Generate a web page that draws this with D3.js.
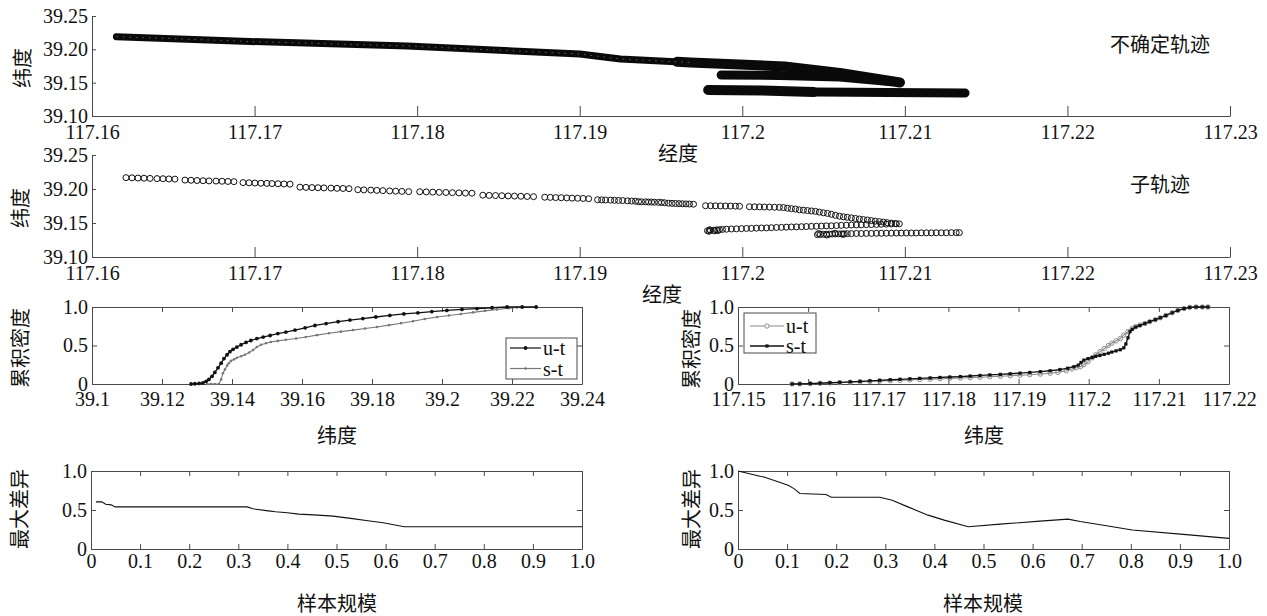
<!DOCTYPE html>
<html><head><meta charset="utf-8">
<script src="https://cdn.jsdelivr.net/npm/d3@7"></script>
<style>body{margin:0;background:#fff}svg{display:block}</style>
</head><body>
<svg id="c" width="1267" height="616"></svg>
<script>
// ---------- tick values / labels ----------
const trajXTicks = [117.16,117.17,117.18,117.19,117.2,117.21,117.22,117.23];
const trajXLabels = ["117.16","117.17","117.18","117.19","117.2","117.21","117.22","117.23"];
const trajYTicks = [39.10,39.15,39.20,39.25];
const trajYLabels = ["39.10","39.15","39.20","39.25"];
const cdfLatTicks = [39.1,39.12,39.14,39.16,39.18,39.2,39.22,39.24];
const cdfLatLabels = ["39.1","39.12","39.14","39.16","39.18","39.2","39.22","39.24"];
const cdfLonTicks = [117.15,117.16,117.17,117.18,117.19,117.2,117.21,117.22];
const cdfLonLabels = ["117.15","117.16","117.17","117.18","117.19","117.2","117.21","117.22"];
const unitTicks = [0,0.5,1];
const unitLabels = ["0","0.5","1.0"];
const sizeTicks = [0,0.1,0.2,0.3,0.4,0.5,0.6,0.7,0.8,0.9,1.0];
const sizeLabels = ["0","0.1","0.2","0.3","0.4","0.5","0.6","0.7","0.8","0.9","1.0"];

// ---------- uncertain trajectory (dense bands) ----------
const bandA1Lon = [117.1615,117.1697,117.1794,117.1900,117.1925,117.1968];
const bandA1Lat = [39.2190,39.2118,39.2050,39.1930,39.1855,39.1803];
const bandA2Lon = [117.1960,117.1968,117.2026,117.2060,117.2097];
const bandA2Lat = [39.1812,39.1803,39.1743,39.1645,39.1503];
const bandBLon = [117.1987,117.2023,117.2060,117.2092];
const bandBLat = [39.1615,39.1608,39.1585,39.1515];
const bandCLon = [117.1979,117.2012,117.2044];
const bandCLat = [39.1390,39.1383,39.1360];
const bandDLon = [117.2046,117.2090,117.2137];
const bandDLat = [39.1360,39.1352,39.1345];

// ---------- sub-trajectory points ----------
const subLon = [
117.16209,117.16246,117.16283,117.16320,117.16357,117.16400,117.16437,117.16473,117.16510,
117.16572,117.16609,117.16646,117.16683,117.16720,117.16763,117.16800,117.16836,117.16873,
117.16929,117.16966,117.17002,117.17039,117.17076,117.17107,117.17144,117.17181,117.17218,
117.17279,117.17316,117.17353,117.17390,117.17427,117.17470,117.17507,117.17544,117.17581,
117.17635,117.17672,117.17715,117.17752,117.17789,117.17831,117.17868,117.17906,117.17948,
117.18016,117.18056,117.18096,117.18136,117.18177,117.18217,117.18257,117.18297,117.18337,
117.18404,117.18443,117.18482,117.18521,117.18560,117.18599,117.18638,117.18677,117.18716,
117.18785,117.18819,117.18852,117.18886,117.18920,117.18953,117.18987,117.19021,117.19055,
117.19110,117.19135,117.19159,117.19190,117.19214,117.19239,117.19264,117.19294,117.19319,117.19343,
117.19362,117.19380,117.19405,117.19423,117.19442,117.19460,117.19485,117.19503,117.19522,
117.19546,117.19568,117.19589,117.19611,117.19632,117.19654,117.19675,117.19700,
117.19774,117.19805,117.19835,117.19866,117.19897,117.19927,117.19958,117.19983,
117.20044,117.20075,117.20106,117.20136,117.20167,117.20198,117.20228,117.20253,
117.20278,117.20302,117.20327,117.20351,117.20376,117.20401,117.20425,117.20450,117.20474,117.20499,
117.20524,117.20548,117.20573,117.20598,117.20622,117.20646,117.20671,117.20696,117.20720,117.20745,
117.20769,117.20794,117.20818,117.20843,117.20868,117.20892,117.20917,117.20941,117.20966,
117.19786,117.19804,117.19823,117.19841,117.19860,117.19878,117.19795,117.19830,117.19800,117.19850,
117.19903,117.19933,117.19964,117.19995,117.20026,117.20056,117.20087,117.20118,117.20149,117.20179,
117.20210,117.20241,117.20271,117.20302,117.20333,117.20364,117.20394,117.20425,117.20456,117.20487,
117.20517,117.20548,117.20579,117.20609,117.20640,117.20671,117.20702,117.20732,117.20763,117.20794,
117.20825,117.20855,117.20886,117.20917,117.20948,
117.20462,117.20480,117.20499,117.20517,117.20536,117.20554,117.20573,117.20591,117.20610,117.20628,117.20646,
117.20470,117.20520,117.20570,117.20620,
117.20671,117.20702,117.20732,117.20763,117.20794,117.20825,117.20855,117.20886,117.20917,117.20948,
117.20978,117.21009,117.21040,117.21070,117.21101,117.21132,117.21163,117.21193,117.21224,117.21255,
117.21286,117.21316,117.21335
];
const subLat = [
39.2167,39.2164,39.2161,39.2159,39.2156,39.2153,39.2151,39.2148,39.2145,
39.2131,39.2128,39.2125,39.2122,39.2119,39.2117,39.2114,39.2111,39.2108,
39.2094,39.2091,39.2088,39.2085,39.2083,39.2080,39.2077,39.2074,39.2071,
39.2027,39.2024,39.2021,39.2019,39.2016,39.2013,39.2010,39.2008,39.2005,
39.1990,39.1987,39.1984,39.1980,39.1976,39.1972,39.1968,39.1965,39.1961,
39.1960,39.1957,39.1954,39.1951,39.1949,39.1946,39.1943,39.1940,39.1938,
39.1909,39.1906,39.1904,39.1901,39.1898,39.1896,39.1893,39.1890,39.1887,
39.1879,39.1877,39.1874,39.1872,39.1869,39.1866,39.1864,39.1861,39.1857,
39.1842,39.1840,39.1838,39.1836,39.1834,39.1832,39.1830,39.1826,39.1823,39.1820,
39.1813,39.1812,39.1811,39.1809,39.1808,39.1806,39.1804,39.1802,39.1798,
39.1791,39.1789,39.1787,39.1785,39.1783,39.1781,39.1779,39.1776,
39.1754,39.1753,39.1752,39.1751,39.1750,39.1749,39.1748,39.1746,
39.1739,39.1738,39.1737,39.1735,39.1734,39.1732,39.1730,39.1727,
39.1717,39.1711,39.1705,39.1694,39.1689,39.1683,39.1677,39.1671,39.1660,39.1650,
39.1641,39.1628,39.1613,39.1600,39.1591,39.1584,39.1575,39.1567,39.1559,39.1551,
39.1544,39.1535,39.1527,39.1520,39.1513,39.1505,39.1498,39.1492,39.1488,
39.1387,39.1392,39.1394,39.1399,39.1402,39.1406,39.1379,39.1384,39.1400,39.1390,
39.1409,39.1412,39.1414,39.1417,39.1420,39.1421,39.1424,39.1427,39.1428,39.1431,
39.1434,39.1436,39.1439,39.1442,39.1443,39.1446,39.1448,39.1451,39.1452,39.1455,
39.1458,39.1459,39.1462,39.1465,39.1467,39.1470,39.1471,39.1473,39.1476,39.1477,
39.1479,39.1482,39.1483,39.1486,39.1488,
39.1329,39.1332,39.1334,39.1335,39.1337,39.1338,39.1340,39.1340,39.1341,39.1341,39.1343,
39.1345,39.1323,39.1347,39.1333,
39.1344,39.1346,39.1346,39.1347,39.1347,39.1349,39.1349,39.1350,39.1350,39.1352,
39.1352,39.1353,39.1353,39.1353,39.1355,39.1355,39.1355,39.1356,39.1356,39.1356,
39.1358,39.1358,39.1358
];

// ---------- cumulative density, latitude ----------
const cdfLatUT = [39.1283,39.1294,39.1306,39.1317,39.1326,39.1334,39.1343,39.1351,39.1360,39.1369,
39.1377,39.1386,39.1394,39.1403,39.1414,39.1426,39.1440,39.1454,39.1471,39.1489,
39.1509,39.1531,39.1554,39.1580,39.1609,39.1637,39.1669,39.1703,39.1737,39.1774,
39.1811,39.1851,39.1891,39.1931,39.1971,39.2014,39.2057,39.2100,39.2143,39.2186,39.2229,39.2269];
const cdfValUT = [0,0.003,0.008,0.015,0.035,0.06,0.10,0.15,0.21,0.27,
0.33,0.38,0.42,0.45,0.48,0.51,0.54,0.565,0.59,0.61,
0.63,0.655,0.675,0.70,0.73,0.76,0.785,0.81,0.83,0.85,
0.87,0.89,0.91,0.925,0.94,0.955,0.968,0.98,0.99,1.0,1.0,1.0];
const cdfLatST = [39.1329,39.1340,39.1351,39.1363,39.1369,39.1374,39.1380,39.1386,39.1391,39.1397,
39.1406,39.1414,39.1426,39.1437,39.1449,39.1460,39.1471,39.1483,39.1497,39.1511,
39.1531,39.1554,39.1583,39.1611,39.1643,39.1677,39.1711,39.1746,39.1780,39.1814,
39.1849,39.1883,39.1917,39.1951,39.1986,39.2020,39.2054,39.2089,39.2123,39.2157,39.2191,39.2214];
const cdfValST = [0,0,0,0,0.06,0.14,0.19,0.24,0.27,0.30,
0.32,0.34,0.36,0.38,0.41,0.44,0.48,0.51,0.53,0.545,
0.56,0.575,0.59,0.61,0.635,0.66,0.68,0.70,0.72,0.74,
0.765,0.79,0.815,0.845,0.87,0.89,0.91,0.93,0.95,0.968,0.985,0.995];

// ---------- cumulative density, longitude ----------
const cdfLonUT = [117.1577,117.1588,117.1603,117.1617,117.1631,117.1645,117.1660,117.1674,117.1688,117.1702,
117.1717,117.1731,117.1745,117.1759,117.1774,117.1788,117.1802,117.1817,117.1831,117.1845,
117.1859,117.1874,117.1888,117.1902,117.1916,117.1931,117.1945,
117.1956,117.1968,117.1976,117.1982,117.1988,117.1993,117.1999,117.2005,117.2010,117.2016,
117.2022,117.2028,117.2033,117.2039,117.2045,117.2050,117.2056,117.2062,117.2067,117.2073,
117.2080,117.2087,117.2095,117.2102,117.2110,117.2119,117.2127,117.2136,117.2144,117.2153,
117.2162,117.2170];
const cdfLonValUT = [0,0.002,0.005,0.009,0.013,0.018,0.023,0.028,0.033,0.038,
0.043,0.048,0.053,0.058,0.063,0.068,0.073,0.078,0.083,0.088,
0.094,0.10,0.107,0.114,0.121,0.129,0.140,
0.152,0.172,0.195,0.21,0.225,0.25,0.29,0.34,0.38,0.42,
0.46,0.50,0.53,0.56,0.59,0.635,0.68,0.72,0.745,0.765,
0.785,0.81,0.835,0.86,0.89,0.925,0.955,0.98,0.995,1.0,
1.0,1.0];
const cdfLonST = [117.1577,117.1588,117.1603,117.1617,117.1631,117.1645,117.1660,117.1674,117.1688,117.1702,
117.1717,117.1731,117.1745,117.1759,117.1774,117.1788,117.1802,117.1817,117.1831,117.1845,
117.1859,117.1874,117.1888,117.1902,117.1916,117.1931,117.1945,
117.1959,117.1970,117.1979,117.1985,117.1989,117.1993,117.1999,117.2005,117.2010,117.2016,
117.2022,117.2028,117.2033,117.2039,117.2045,117.2050,117.2053,117.2056,117.2059,117.2062,
117.2067,117.2073,117.2080,117.2087,117.2095,117.2102,117.2110,117.2119,117.2127,117.2136,
117.2144,117.2153,117.2162,117.2170];
const cdfLonValST = [0,0.002,0.006,0.011,0.016,0.022,0.028,0.034,0.041,0.048,
0.055,0.061,0.067,0.073,0.079,0.085,0.091,0.097,0.104,0.111,
0.118,0.125,0.133,0.141,0.150,0.160,0.172,
0.188,0.205,0.225,0.245,0.28,0.31,0.33,0.345,0.36,0.37,
0.385,0.40,0.415,0.43,0.445,0.47,0.52,0.60,0.68,0.71,
0.74,0.76,0.785,0.81,0.835,0.86,0.89,0.925,0.955,0.98,
0.995,1.0,1.0,1.0];

// ---------- maximum difference vs sample size ----------
const diffLX = [0.010,0.022,0.030,0.041,0.049,0.318,0.330,0.361,0.376,0.400,0.423,0.454,0.493,0.525,0.564,0.595,0.638,1.0];
const diffLY = [0.604,0.604,0.574,0.566,0.540,0.540,0.515,0.489,0.477,0.464,0.447,0.438,0.421,0.396,0.362,0.336,0.285,0.285];
const diffRX = [0,0.045,0.053,0.077,0.102,0.114,0.126,0.179,0.190,0.289,0.314,0.346,0.387,0.420,0.469,0.534,0.615,0.672,0.697,0.738,0.803,0.901,1.0];
const diffRY = [1.0,0.932,0.923,0.872,0.817,0.774,0.711,0.698,0.664,0.664,0.626,0.540,0.434,0.370,0.285,0.319,0.357,0.383,0.353,0.311,0.243,0.191,0.136];

// ================== drawing ==================
const SERIF = '"Liberation Serif","Times New Roman",serif';
const CJK = '"Noto Sans CJK SC","Noto Sans CJK TC",sans-serif';
const AX = '#4a4a4a';
const svg = d3.select('#c');

function styleAxis(g) {
  g.attr('font-family', SERIF);
  g.select('.domain').attr('stroke', AX).attr('stroke-width', 1);
  g.selectAll('.tick line').attr('stroke', AX).attr('stroke-width', 1);
  g.selectAll('.tick text').attr('font-family', SERIF).attr('font-size', 20).attr('fill', '#111');
}
function cjkText(x, y, str, rotate, size) {
  const t = svg.append('text').attr('font-family', CJK).attr('font-size', size || 20)
    .attr('fill', '#111').attr('text-anchor', 'middle').attr('dominant-baseline', 'central').text(str);
  if (rotate) t.attr('transform', `translate(${x},${y}) rotate(-90)`);
  else t.attr('x', x).attr('y', y);
  return t;
}

// open (left+bottom) trajectory axes
function trajPanel(top, bottom, xPad) {
  const x = d3.scaleLinear().domain([117.16, 117.23]).range([92, 1230]);
  const y = d3.scaleLinear().domain([39.10, 39.25]).range([bottom, top]);
  svg.append('g').attr('transform', `translate(0,${bottom})`)
    .call(d3.axisBottom(x).tickValues(trajXTicks).tickFormat((d, i) => trajXLabels[i])
      .tickSizeInner(-10).tickSizeOuter(0).tickPadding(xPad)).call(styleAxis);
  svg.append('g').attr('transform', 'translate(92,0)')
    .call(d3.axisLeft(y).tickValues(trajYTicks).tickFormat((d, i) => trajYLabels[i])
      .tickSizeInner(-4).tickSizeOuter(0).tickPadding(4)).call(styleAxis);
  return { x, y };
}

// boxed axes
function boxPanel(x0, x1, y0, y1, xDom, yDom, xt, xl, yt, yl, xPad) {
  const x = d3.scaleLinear().domain(xDom).range([x0, x1]);
  const y = d3.scaleLinear().domain(yDom).range([y1, y0]);
  svg.append('g').attr('transform', `translate(0,${y1})`)
    .call(d3.axisBottom(x).tickValues(xt).tickFormat((d, i) => xl[i]).tickSizeInner(-5).tickSizeOuter(0).tickPadding(xPad)).call(styleAxis);
  svg.append('g').attr('transform', `translate(0,${y0})`)
    .call(d3.axisTop(x).tickValues(xt).tickFormat('').tickSizeInner(-5).tickSizeOuter(0)).call(styleAxis);
  svg.append('g').attr('transform', `translate(${x0},0)`)
    .call(d3.axisLeft(y).tickValues(yt).tickFormat((d, i) => yl[i]).tickSizeInner(-5).tickSizeOuter(0).tickPadding(4)).call(styleAxis);
  svg.append('g').attr('transform', `translate(${x1},0)`)
    .call(d3.axisRight(y).tickValues(yt).tickFormat('').tickSizeInner(-5).tickSizeOuter(0)).call(styleAxis);
  return { x, y };
}

// ---- panel 1 : uncertain trajectory ----
(function () {
  const { x, y } = trajPanel(16, 116, 9);
  const line = d3.line().x(d => x(d[0])).y(d => y(d[1]));
  const bands = [
    [bandA1Lon, bandA1Lat, 7],
    [bandA2Lon, bandA2Lat, 10],
    [bandBLon, bandBLat, 9],
    [bandCLon, bandCLat, 10],
    [bandDLon, bandDLat, 9]
  ];
  bands.forEach(([lo, la, w]) => {
    svg.append('path').datum(lo.map((v, i) => [v, la[i]])).attr('d', line)
      .attr('fill', 'none').attr('stroke', '#0a0a0a').attr('stroke-width', w)
      .attr('stroke-linecap', 'round').attr('stroke-linejoin', 'round');
  });
  // speckled texture of overlapping circles
  svg.append('path').datum(bandA1Lon.map((v, i) => [v, bandA1Lat[i]])).attr('d', line)
    .attr('fill', 'none').attr('stroke', '#fff').attr('stroke-width', 1)
    .attr('stroke-dasharray', '1.5 5').attr('opacity', 0.35);
  cjkText(21, 68, '纬度', true);
  cjkText(678, 152, '经度');
  cjkText(1160, 43, '不确定轨迹');
})();

// ---- panel 2 : sub-trajectory ----
(function () {
  const { x, y } = trajPanel(155, 257, 9);
  svg.append('g').selectAll('circle').data(subLon.map((v, i) => [v, subLat[i]])).join('circle')
    .attr('cx', d => x(d[0])).attr('cy', d => y(d[1])).attr('r', 3)
    .attr('fill', 'none').attr('stroke', '#111').attr('stroke-width', 1);
  cjkText(19, 208, '纬度', true);
  cjkText(662, 293, '经度');
  cjkText(1160, 183, '子轨迹');
})();

// ---- panel 3 : CDF latitude ----
(function () {
  const { x, y } = boxPanel(92, 582, 307, 384, [39.1, 39.24], [0, 1], cdfLatTicks, cdfLatLabels, unitTicks, unitLabels, 8);
  const line = d3.line().x(d => x(d[0])).y(d => y(d[1]));
  const st = cdfLatST.map((v, i) => [v, cdfValST[i]]);
  const ut = cdfLatUT.map((v, i) => [v, cdfValUT[i]]);
  svg.append('path').datum(st).attr('d', line).attr('fill', 'none').attr('stroke', '#777').attr('stroke-width', 1.1);
  svg.append('g').selectAll('circle').data(st).join('circle').attr('cx', d => x(d[0])).attr('cy', d => y(d[1]))
    .attr('r', 1.3).attr('fill', '#777');
  svg.append('path').datum(ut).attr('d', line).attr('fill', 'none').attr('stroke', '#111').attr('stroke-width', 1.3);
  svg.append('g').selectAll('circle').data(ut).join('circle').attr('cx', d => x(d[0])).attr('cy', d => y(d[1]))
    .attr('r', 1.9).attr('fill', '#111');
  // legend
  const lg = svg.append('g');
  lg.append('rect').attr('x', 506).attr('y', 338).attr('width', 71).attr('height', 41).attr('fill', '#fff').attr('stroke', AX);
  [['u-t', '#111', 348, 1.9], ['s-t', '#777', 368.5, 1.3]].forEach(([t, c, yy, r]) => {
    lg.append('line').attr('x1', 510).attr('x2', 541).attr('y1', yy).attr('y2', yy).attr('stroke', c).attr('stroke-width', 1.2);
    lg.append('circle').attr('cx', 525.5).attr('cy', yy).attr('r', r).attr('fill', c);
    lg.append('text').attr('x', 543).attr('y', yy).attr('dominant-baseline', 'central')
      .attr('font-family', SERIF).attr('font-size', 20).attr('fill', '#111').text(t);
  });
  cjkText(19, 348, '累积密度', true);
  cjkText(337, 434, '纬度');
})();

// ---- panel 4 : CDF longitude ----
(function () {
  const { x, y } = boxPanel(738, 1229, 307, 384, [117.15, 117.22], [0, 1], cdfLonTicks, cdfLonLabels, unitTicks, unitLabels, 8);
  const line = d3.line().x(d => x(d[0])).y(d => y(d[1]));
  const ut = cdfLonUT.map((v, i) => [v, cdfLonValUT[i]]);
  const st = cdfLonST.map((v, i) => [v, cdfLonValST[i]]);
  svg.append('path').datum(ut).attr('d', line).attr('fill', 'none').attr('stroke', '#8a8a8a').attr('stroke-width', 1.1);
  svg.append('g').selectAll('circle').data(ut).join('circle').attr('cx', d => x(d[0])).attr('cy', d => y(d[1]))
    .attr('r', 2.2).attr('fill', 'none').attr('stroke', '#8a8a8a').attr('stroke-width', 1);
  svg.append('path').datum(st).attr('d', line).attr('fill', 'none').attr('stroke', '#111').attr('stroke-width', 1.3);
  svg.append('g').selectAll('rect').data(st).join('rect').attr('x', d => x(d[0]) - 1.6).attr('y', d => y(d[1]) - 1.6)
    .attr('width', 3.2).attr('height', 3.2).attr('fill', '#111');
  const lg = svg.append('g');
  lg.append('rect').attr('x', 744).attr('y', 313).attr('width', 72).attr('height', 40).attr('fill', '#fff').attr('stroke', AX);
  lg.append('line').attr('x1', 750).attr('x2', 784).attr('y1', 326).attr('y2', 326).attr('stroke', '#8a8a8a').attr('stroke-width', 1.1);
  lg.append('circle').attr('cx', 767).attr('cy', 326).attr('r', 2.2).attr('fill', '#fff').attr('stroke', '#8a8a8a');
  lg.append('line').attr('x1', 750).attr('x2', 784).attr('y1', 346).attr('y2', 346).attr('stroke', '#111').attr('stroke-width', 1.3);
  lg.append('rect').attr('x', 765.4).attr('y', 344.4).attr('width', 3.2).attr('height', 3.2).attr('fill', '#111');
  [['u-t', 326], ['s-t', 346]].forEach(([t, yy]) => {
    lg.append('text').attr('x', 786).attr('y', yy).attr('dominant-baseline', 'central')
      .attr('font-family', SERIF).attr('font-size', 20).attr('fill', '#111').text(t);
  });
  cjkText(690, 349, '累积密度', true);
  cjkText(984, 434, '纬度');
})();

// ---- panel 5 / 6 : max difference ----
function diffPanel(x0, x1, xs, ys, labX, labXc) {
  const { x, y } = boxPanel(x0, x1, 471, 549, [0, 1], [0, 1], sizeTicks, sizeLabels, unitTicks, unitLabels, 5);
  svg.append('path').datum(xs.map((v, i) => [v, ys[i]]))
    .attr('d', d3.line().x(d => x(d[0])).y(d => y(d[1])))
    .attr('fill', 'none').attr('stroke', '#111').attr('stroke-width', 1.1);
  cjkText(labX, 509, '最大差异', true);
  cjkText(labXc, 602, '样本规模');
}
diffPanel(91, 582, diffLX, diffLY, 18, 337);
diffPanel(738, 1229, diffRX, diffRY, 690, 983);
</script>
</body></html>
